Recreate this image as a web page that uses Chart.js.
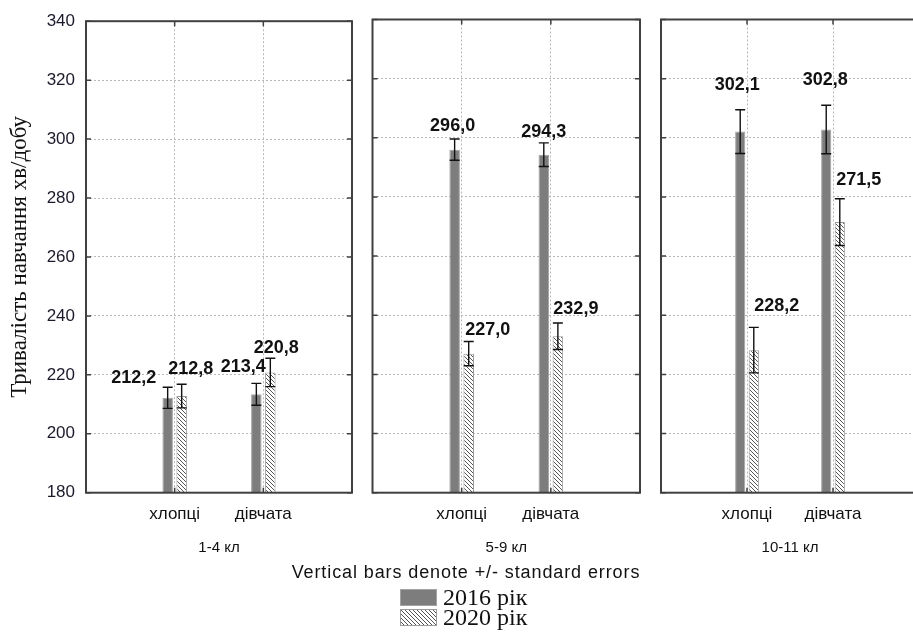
<!DOCTYPE html>
<html>
<head>
<meta charset="utf-8">
<script src="https://cdn.jsdelivr.net/npm/chart.js@4.4.1/dist/chart.umd.min.js"></script>
<style>
html,body{margin:0;padding:0;background:#fff;overflow:hidden;width:913px;height:635px;position:relative;}
canvas.panel{position:absolute;left:0;top:0;}
#note{position:absolute;left:0;top:561px;width:932px;text-align:center;font:18px "Liberation Sans",Arial,sans-serif;letter-spacing:0.9px;color:#111;line-height:22px;white-space:nowrap;}
.legrow{position:absolute;left:400px;height:18px;}
.legrow canvas{position:absolute;left:0;top:0;}
.legrow span{position:absolute;left:43px;top:-6px;font:24px "Liberation Serif","Times New Roman",serif;color:#111;white-space:nowrap;line-height:28px;}
</style>
</head>
<body>
<canvas id="p0" class="panel" width="930" height="635"></canvas>
<canvas id="p1" class="panel" width="930" height="635"></canvas>
<canvas id="p2" class="panel" width="930" height="635"></canvas>
<div id="note"></div>
<div class="legrow" style="top:589px"><canvas id="lg0" width="37" height="17"></canvas><span id="lt0"></span></div>
<div class="legrow" style="top:609px"><canvas id="lg1" width="37" height="17"></canvas><span id="lt1"></span></div>
<script>
// ---------- data ----------
const categories = ['хлопці', 'дівчата'];
const groups = ['1-4 кл', '5-9 кл', '10-11 кл'];
const seriesNames = ['2016 рік', '2020 рік'];
const values2016 = [[212.2, 213.4], [296.0, 294.3], [302.1, 302.8]];
const values2020 = [[212.8, 220.8], [227.0, 232.9], [228.2, 271.5]];
const se2016 = [[3.6, 3.7], [3.6, 4.0], [7.4, 8.2]];
const se2020 = [[4.0, 4.8], [4.1, 4.5], [7.7, 7.9]];
const yTicks = [180, 200, 220, 240, 260, 280, 300, 320, 340];
const yTitle = 'Тривалість навчання хв/добу';
const footnote = 'Vertical bars denote +/- standard errors';

// ---------- layout (pixels, not data) ----------
const panelBox = [{left: 86, right: 352}, {left: 372.5, right: 640}, {left: 661, right: 927}];
const plotTop = 19.5, plotBottom = 492.7, axisBottom = 560, canvasW = 930, canvasH = 635;
// label nudges [panel][series][category] = [dx, dy] from bar centre / bar top
const labelNudge = [
  [[[-34, -21], [-13, -28]], [[9, -28], [6, -25.5]]],
  [[[-2, -25], [0, -24]], [[19, -25], [18, -28]]],
  [[[-3, -48], [-1, -50.5]], [[23, -45.5], [19, -43]]]
];

// hatch pattern
function makeHatch() {
  const pc = document.createElement('canvas');
  pc.width = 4; pc.height = 4;
  const g = pc.getContext('2d');
  g.fillStyle = '#fff'; g.fillRect(0, 0, 4, 4);
  g.strokeStyle = '#555'; g.lineWidth = 1;
  g.beginPath();
  g.moveTo(-1, -1); g.lineTo(5, 5);
  g.moveTo(-1, 3); g.lineTo(1, 5);
  g.moveTo(3, -1); g.lineTo(5, 1);
  g.stroke();
  return pc;
}
const hatchCanvas = makeHatch();
const solidColor = '#7d7d7d';

const fmt = v => v.toFixed(1).replace('.', ',');

const decorPlugin = {
  id: 'decor',
  afterDatasetsDraw(chart) {
    const p = chart.options.plugins.decor.panel;
    const ctx = chart.ctx;
    const y = chart.scales.y, x = chart.scales.x;
    const a = chart.chartArea;
    const allVals = [values2016[p], values2020[p]];
    const allSe = [se2016[p], se2020[p]];
    ctx.save();
    // error bars
    ctx.strokeStyle = '#111';
    ctx.lineWidth = 1.4;
    for (let d = 0; d < 2; d++) {
      const meta = chart.getDatasetMeta(d);
      categories.forEach((c, j) => {
        const el = meta.data[j + 1];
        const v = allVals[d][j], e = allSe[d][j];
        const yt = y.getPixelForValue(v + e), yb = y.getPixelForValue(v - e);
        const cx = el.x;
        ctx.beginPath();
        ctx.moveTo(cx, yt); ctx.lineTo(cx, yb);
        ctx.moveTo(cx - 5, yt); ctx.lineTo(cx + 5, yt);
        ctx.moveTo(cx - 5, yb); ctx.lineTo(cx + 5, yb);
        ctx.stroke();
      });
    }
    // frame
    ctx.strokeStyle = '#404040';
    ctx.lineWidth = 2;
    ctx.strokeRect(a.left, a.top, a.right - a.left, a.bottom - a.top);
    // inward ticks
    ctx.lineWidth = 1.5;
    ctx.beginPath();
    yTicks.forEach(t => {
      const py = y.getPixelForValue(t);
      ctx.moveTo(a.left, py); ctx.lineTo(a.left + 5, py);
      ctx.moveTo(a.right, py); ctx.lineTo(a.right - 5, py);
    });
    categories.forEach((c, j) => {
      const px = x.getPixelForValue(j + 1);
      ctx.moveTo(px, a.top); ctx.lineTo(px, a.top + 5);
      ctx.moveTo(px, a.bottom); ctx.lineTo(px, a.bottom - 5);
    });
    ctx.stroke();
    // value labels
    ctx.fillStyle = '#111';
    ctx.font = 'bold 18px "Liberation Sans", Arial, sans-serif';
    ctx.textAlign = 'center';
    ctx.textBaseline = 'middle';
    for (let d = 0; d < 2; d++) {
      const meta = chart.getDatasetMeta(d);
      categories.forEach((c, j) => {
        const el = meta.data[j + 1];
        const v = allVals[d][j];
        const n = labelNudge[p][d][j];
        ctx.fillText(fmt(v), el.x + n[0], y.getPixelForValue(v) + n[1] + 1);
      });
    }
    ctx.restore();
  }
};

function makePanel(p) {
  const pattern = document.getElementById('p' + p).getContext('2d').createPattern(hatchCanvas, 'repeat');
  const first = p === 0;
  return new Chart(document.getElementById('p' + p), {
    type: 'bar',
    data: {
      labels: ['', ...categories, ''],
      datasets: [
        {label: seriesNames[0], data: [null, ...values2016[p], null], backgroundColor: solidColor, borderColor: '#a3a3a3', borderWidth: 1},
        {label: seriesNames[1], data: [null, ...values2020[p], null], backgroundColor: pattern, borderColor: '#9a9a9a', borderWidth: 1}
      ]
    },
    options: {
      responsive: false,
      animation: false,
      events: [],
      categoryPercentage: 28 / 88.7,
      barPercentage: 10.5 / 14,
      layout: {padding: {left: first ? 0 : panelBox[p].left, right: canvasW - panelBox[p].right, top: plotTop, bottom: canvasH - axisBottom}},
      plugins: {legend: {display: false}, tooltip: {enabled: false}, decor: {panel: p}},
      scales: {
        x: {
          type: 'category',
          offset: false,
          grid: {offset: false, color: '#b8b8b8', lineWidth: 1, drawTicks: false},
          border: {display: false, dash: [2, 2]},
          ticks: {color: '#111', font: {family: '"Liberation Sans", Arial, sans-serif', size: 17}, padding: 11, maxRotation: 0, autoSkip: false},
          title: {display: true, text: groups[p], color: '#111', font: {family: '"Liberation Sans", Arial, sans-serif', size: 15}, padding: {top: 0, bottom: 3}},
          afterFit: s => { s.height = axisBottom - plotBottom; }
        },
        y: {
          min: yTicks[0],
          max: yTicks[yTicks.length - 1],
          grid: {color: '#b8b8b8', lineWidth: 1, drawTicks: false},
          border: {display: false, dash: [2, 2]},
          afterBuildTicks: s => { s.ticks = yTicks.map(v => ({value: v})); },
          ticks: {display: first, color: '#1a1a2a', font: {family: '"Liberation Sans", Arial, sans-serif', size: 17}, padding: 11},
          title: {display: first, text: yTitle, color: '#111', font: {family: '"Liberation Serif", "Times New Roman", serif', size: 23}, padding: {top: 6, bottom: 0}},
          afterFit: s => { s.width = first ? panelBox[0].left : 0; }
        }
      }
    },
    plugins: [decorPlugin]
  });
}
[0, 1, 2].forEach(makePanel);

// footnote + legend
document.getElementById('note').textContent = footnote;
document.getElementById('lt0').textContent = seriesNames[0];
document.getElementById('lt1').textContent = seriesNames[1];
(function () {
  const g0 = document.getElementById('lg0').getContext('2d');
  g0.fillStyle = solidColor; g0.fillRect(0, 0, 37, 17);
  g0.strokeStyle = '#a3a3a3'; g0.strokeRect(0.5, 0.5, 36, 16);
  const g1 = document.getElementById('lg1').getContext('2d');
  g1.fillStyle = g1.createPattern(hatchCanvas, 'repeat'); g1.fillRect(0, 0, 37, 17);
  g1.strokeStyle = '#9a9a9a'; g1.strokeRect(0.5, 0.5, 36, 16);
})();
</script>
</body>
</html>
